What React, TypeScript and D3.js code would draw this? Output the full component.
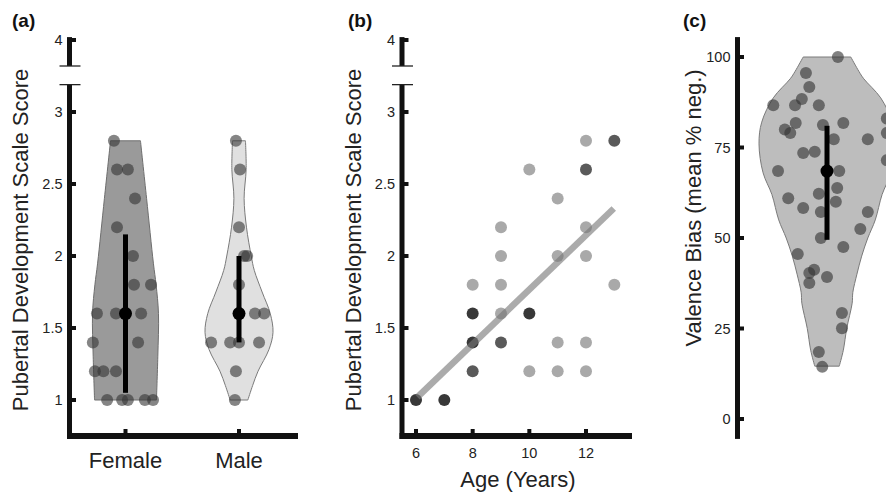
import { useEffect, useRef } from 'react';
import * as d3 from 'd3';

const W = 886;
const H = 494;
const FONT = '"Liberation Sans", Arial, Helvetica, sans-serif';

// (a) PDS by sex
const sexes = ['Female', 'Male'];
const femalePds = [2.8, 2.6, 2.6, 2.4, 2.2, 2.0, 1.8, 1.8, 1.6, 1.6, 1.6, 1.6, 1.4, 1.4, 1.2, 1.2, 1.2, 1.0, 1.0, 1.0, 1.0, 1.0];
const femaleJitter = [-0.34, -0.25, 0.07, 0.28, -0.25, 0.22, 0.25, 0.75, -0.84, -0.28, 0.0, 0.46, -0.96, 0.37, -0.9, -0.65, -0.28, -0.54, -0.1, 0.07, 0.57, 0.81];
const malePds = [2.8, 2.6, 2.2, 2.0, 2.0, 1.8, 1.6, 1.6, 1.4, 1.4, 1.4, 1.4, 1.2, 1.0];
const maleJitter = [-0.09, 0.03, 0, 0.15, 0.24, 0, 0.47, 0.74, -0.82, -0.26, 0, 0.59, -0.09, -0.12];
// violin outlines: [value, relative half width]
const femaleDensity: [number, number][] = [[2.8, 0.44], [2.4, 0.62], [1.95, 0.82], [1.8, 0.9], [1.6, 0.97], [1.3, 0.95], [1.0, 0.91]];
const maleDensity: [number, number][] = [[2.8, 0.19], [2.6, 0.21], [2.4, 0.15], [2.2, 0.22], [2.0, 0.36], [1.9, 0.45], [1.75, 0.68], [1.6, 0.92], [1.47, 1.0], [1.35, 0.88], [1.2, 0.56], [1.1, 0.4], [1.0, 0.26]];
// [q1, median, q3]
const femaleStats = [1.05, 1.6, 2.15];
const maleStats = [1.4, 1.6, 2.0];
const pdsTicks = [1, 1.5, 2, 2.5, 3];

// (b) age vs PDS, shade group
const ages = [13, 12, 10, 12, 11, 9, 12, 9, 11, 12, 8, 9, 13, 8, 9, 10, 8, 9, 11, 12, 8, 10, 11, 12, 6, 7];
const agePds = [2.8, 2.8, 2.6, 2.6, 2.4, 2.2, 2.2, 2.0, 2.0, 2.0, 1.8, 1.8, 1.8, 1.6, 1.6, 1.6, 1.4, 1.4, 1.4, 1.4, 1.2, 1.2, 1.2, 1.2, 1.0, 1.0];
const ageGroup = ['mid', 'light', 'light', 'mid', 'light', 'light', 'light', 'light', 'light', 'light', 'light', 'light', 'light', 'dark', 'light', 'dark', 'dark', 'mid', 'light', 'light', 'mid', 'light', 'light', 'light', 'dark', 'dark'];
const fitLine: [number, number][] = [[6.05, 1.02], [12.98, 2.33]];
const ageTicks = [6, 8, 10, 12];

// (c) valence bias
const valence = [100, 95.6, 91.7, 86.7, 86.7, 88.4, 86.7, 81.8, 80, 79, 81.2, 81.8, 77.3, 77.3, 83, 79, 71.5, 73.5, 73.8, 68.5, 68.5, 63.8, 61, 62.2, 60, 58.3, 57.2, 57.2, 52.5, 50, 47.5, 45.6, 41.2, 40.3, 39.2, 37.6, 29.3, 25.1, 18.5, 14.4];
const valenceJitter = [0.16, -0.31, -0.26, -0.79, -0.47, -0.37, -0.12, -0.46, -0.62, -0.54, -0.06, 0.24, 0.1, 0.6, 0.88, 0.88, 0.88, -0.35, -0.18, -0.72, 0.18, 0.15, -0.57, -0.12, 0.13, -0.35, -0.09, 0.6, 0.49, -0.09, 0.24, -0.43, -0.19, -0.26, 0.0, -0.26, 0.22, 0.22, -0.12, -0.07];
const valenceDensity: [number, number][] = [[100, 0.35], [96, 0.47], [94, 0.54], [88.7, 0.79], [82, 0.96], [76, 1.0], [68, 0.94], [62, 0.81], [55, 0.71], [50, 0.6], [45, 0.51], [40, 0.44], [35, 0.38], [32, 0.37], [25, 0.29], [19, 0.24], [14.6, 0.18]];
const valenceStats = [49.5, 68.5, 81];
const valenceTicks = [0, 25, 50, 75, 100];

const shade: Record<string, string> = { light: '#a9a9a9', mid: '#5a5a5a', dark: '#383838' };

export default function App() {
  const svgRef = useRef<SVGSVGElement>(null);

  useEffect(() => {
    const svg = d3.select(svgRef.current);
    svg.selectAll('*').remove();

    const bar = (x: number, y0: number, y1: number) =>
      svg.append('rect').attr('x', x - 2.5).attr('y', y0).attr('width', 5).attr('height', y1 - y0).attr('fill', '#111');

    const yTicks = (x: number, scale: d3.ScaleLinear<number, number>, ticks: number[]) => {
      ticks.forEach(t => {
        svg.append('rect').attr('x', x + 2).attr('y', scale(t) - 2).attr('width', 4.5).attr('height', 4).attr('fill', '#111');
        svg.append('text').attr('x', x - 7).attr('y', scale(t)).attr('dy', '0.36em')
          .attr('text-anchor', 'end').style('font-family', FONT).style('font-size', '14.5px').attr('fill', '#222')
          .text(String(t));
      });
    };

    const yLabel = (x: number, y: number, txt: string) =>
      svg.append('text').attr('transform', `translate(${x},${y}) rotate(-90)`).attr('text-anchor', 'middle')
        .style('font-family', FONT).style('font-size', '22px').attr('fill', '#222').text(txt);

    const panelLabel = (x: number, txt: string) =>
      svg.append('text').attr('x', x).attr('y', 27).style('font-family', FONT).style('font-size', '19px')
        .style('font-weight', 'bold').attr('fill', '#111').text(txt);

    const breakAxis = (x: number, yTop: d3.ScaleLinear<number, number>, y: d3.ScaleLinear<number, number>) => {
      bar(x, yTop(4.02), yTop(3.82));
      bar(x, y(3.19), y(0.73));
      [yTop(3.82), y(3.19)].forEach(v => {
        svg.append('line').attr('x1', x - 10).attr('x2', x + 11).attr('y1', v).attr('y2', v)
          .attr('stroke', '#222').attr('stroke-width', 1.3);
      });
      svg.append('rect').attr('x', x + 2).attr('y', yTop(4) - 2).attr('width', 4.5).attr('height', 4).attr('fill', '#111');
      svg.append('text').attr('x', x - 7).attr('y', yTop(4)).attr('dy', '0.36em').attr('text-anchor', 'end')
        .style('font-family', FONT).style('font-size', '14.5px').attr('fill', '#222').text('4');
      yTicks(x, y, pdsTicks);
    };

    const violin = (cx: number, y: d3.ScaleLinear<number, number>, w: d3.ScaleLinear<number, number>,
      dens: [number, number][], fill: string, stroke: string) => {
      const area = d3.area<[number, number]>()
        .curve(d3.curveCatmullRom.alpha(0.5))
        .y(d => y(d[0]))
        .x0(d => cx - w(d[1]))
        .x1(d => cx + w(d[1]));
      svg.append('path').datum(dens).attr('d', area).attr('fill', fill).attr('stroke', stroke).attr('stroke-width', 1);
    };

    const dots = (vals: number[], jit: number[], cx: number, y: d3.ScaleLinear<number, number>,
      w: d3.ScaleLinear<number, number>, opacity: number) => {
      svg.append('g').selectAll('circle').data(vals).enter().append('circle')
        .attr('cx', (_, i) => cx + w(jit[i])).attr('cy', d => y(d)).attr('r', 6)
        .attr('fill', '#333').attr('fill-opacity', opacity);
    };

    const summary = (cx: number, y: d3.ScaleLinear<number, number>, s: number[]) => {
      svg.append('rect').attr('x', cx - 2.5).attr('y', y(s[2])).attr('width', 5).attr('height', y(s[0]) - y(s[2])).attr('fill', '#000');
      svg.append('circle').attr('cx', cx).attr('cy', y(s[1])).attr('r', 6.5).attr('fill', '#000');
    };

    // ---------- (a) ----------
    const yA = d3.scaleLinear().domain([1, 3]).range([400, 112]);
    const yATop = d3.scaleLinear().domain([3.82, 4]).range([66, 40]);
    const xA = d3.scalePoint().domain(sexes).range([125.5, 239]);
    const wA = d3.scaleLinear().domain([0, 1]).range([0, 34]);
    const axA = 69.5;

    panelLabel(12, '(a)');
    yLabel(28, 240, 'Pubertal Development Scale Score');

    violin(xA('Female')!, yA, wA, femaleDensity, '#9a9a9a', '#6e6e6e');
    violin(xA('Male')!, yA, wA, maleDensity, '#e0e0e0', '#7a7a7a');
    dots(femalePds, femaleJitter, xA('Female')!, yA, wA, 0.6);
    dots(malePds, maleJitter, xA('Male')!, yA, wA, 0.6);
    summary(xA('Female')!, yA, femaleStats);
    summary(xA('Male')!, yA, maleStats);

    breakAxis(axA, yATop, yA);
    svg.append('rect').attr('x', axA - 2.5).attr('y', 433).attr('width', 298 - axA + 2.5).attr('height', 6).attr('fill', '#111');
    sexes.forEach(s => {
      svg.append('rect').attr('x', xA(s)! - 2).attr('y', 429).attr('width', 4).attr('height', 5).attr('fill', '#111');
      svg.append('text').attr('x', xA(s)!).attr('y', 468).attr('text-anchor', 'middle')
        .style('font-family', FONT).style('font-size', '22px').attr('fill', '#222').text(s);
    });

    // ---------- (b) ----------
    const xB = d3.scaleLinear().domain([6, 12]).range([416, 586]);
    const axB = 402;

    panelLabel(348, '(b)');
    yLabel(361, 240, 'Pubertal Development Scale Score');

    svg.append('g').selectAll('circle').data(ages).enter().append('circle')
      .attr('cx', d => xB(d)).attr('cy', (_, i) => yA(agePds[i])).attr('r', 6)
      .attr('fill', (_, i) => shade[ageGroup[i]]);

    const line = d3.line<[number, number]>().x(d => xB(d[0])).y(d => yA(d[1]));
    svg.append('path').datum(fitLine).attr('d', line).attr('fill', 'none')
      .attr('stroke', '#777').attr('stroke-opacity', 0.62).attr('stroke-width', 6.5);

    breakAxis(axB, yATop, yA);
    svg.append('rect').attr('x', axB - 2.5).attr('y', 433).attr('width', 632 - axB + 2.5).attr('height', 6).attr('fill', '#111');
    ageTicks.forEach(t => {
      svg.append('rect').attr('x', xB(t) - 2).attr('y', 429).attr('width', 4).attr('height', 5).attr('fill', '#111');
      svg.append('text').attr('x', xB(t)).attr('y', 458).attr('text-anchor', 'middle')
        .style('font-family', FONT).style('font-size', '14.5px').attr('fill', '#222').text(String(t));
    });
    svg.append('text').attr('x', 518).attr('y', 487).attr('text-anchor', 'middle')
      .style('font-family', FONT).style('font-size', '22px').attr('fill', '#222').text('Age (Years)');

    // ---------- (c) ----------
    const yC = d3.scaleLinear().domain([0, 100]).range([419, 57]);
    const wC = d3.scaleLinear().domain([0, 1]).range([0, 68]);
    const axC = 737.5;
    const cxC = 827;

    panelLabel(683, '(c)');
    yLabel(701, 208, 'Valence Bias (mean % neg.)');

    violin(cxC, yC, wC, valenceDensity, '#bdbdbd', '#7a7a7a');
    dots(valence, valenceJitter, cxC, yC, wC, 0.62);
    summary(cxC, yC, valenceStats);

    bar(axC, yC(105.5), yC(-5.5));
    yTicks(axC, yC, valenceTicks);
  }, []);

  return (
    <svg ref={svgRef} width={W} height={H}
      style={{ position: 'absolute', left: 0, top: 0, background: '#fff' }} />
  );
}
